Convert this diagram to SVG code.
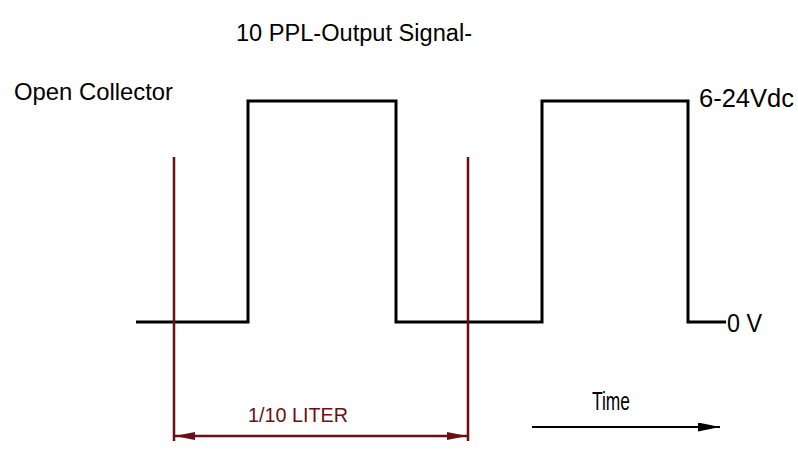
<svg xmlns="http://www.w3.org/2000/svg" width="798" height="453" viewBox="0 0 798 453">
  <style>
    text { font-family: "Liberation Sans", Arial, sans-serif; fill: #000; }
    .wave { fill: none; stroke: #000; stroke-width: 3; }
    .red { stroke: #6b0f12; stroke-width: 2.5; fill: none; }
    .redt { fill: #6b0f12; }
  </style>
  <defs>
    <marker id="redArrow" viewBox="0 0 20 8" refX="20" refY="4" markerWidth="20" markerHeight="8" markerUnits="userSpaceOnUse" orient="auto-start-reverse">
      <path d="M0,0 L20,4 L0,8 Z" fill="#6b0f12"/>
    </marker>
    <marker id="blackArrow" viewBox="0 0 22 9" refX="22" refY="4.5" markerWidth="22" markerHeight="9" markerUnits="userSpaceOnUse" orient="auto">
      <path d="M0,0 L22,4.5 L0,9 Z" fill="#000"/>
    </marker>
  </defs>
  <rect width="798" height="453" fill="#fff"/>

  <g id="title">
    <text x="236" y="41" font-size="23.5" textLength="236" lengthAdjust="spacingAndGlyphs">10 PPL-Output Signal-</text>
  </g>
  <g id="open-collector">
    <text x="14" y="100" font-size="24.5" textLength="159" lengthAdjust="spacingAndGlyphs">Open Collector</text>
  </g>

  <g id="signal">
    <polyline class="wave" points="136,322 248,322 248,101 396,101 396,322 542,322 542,101 688,101 688,322 726,322"/>
  </g>
  <g id="label-high">
    <text x="699" y="107" font-size="25" textLength="95" lengthAdjust="spacingAndGlyphs">6-24Vdc</text>
  </g>
  <g id="label-low">
    <text x="727" y="332" font-size="26" textLength="35" lengthAdjust="spacingAndGlyphs">0 V</text>
  </g>

  <g id="connectors">
    <line class="red" x1="174" y1="157" x2="174" y2="441"/>
    <line class="red" x1="468" y1="157" x2="468" y2="441"/>
    <line class="red" x1="175" y1="436" x2="467" y2="436" marker-start="url(#redArrow)" marker-end="url(#redArrow)"/>
    <line x1="532" y1="427" x2="720" y2="427" stroke="#000" stroke-width="2" marker-end="url(#blackArrow)"/>
  </g>

  <g id="label-liter">
    <text class="redt" x="248" y="422" font-size="21" textLength="100" lengthAdjust="spacingAndGlyphs">1/10 LITER</text>
  </g>
  <g id="label-time">
    <text x="592" y="410" font-size="25" textLength="38" lengthAdjust="spacingAndGlyphs">Time</text>
  </g>
</svg>
